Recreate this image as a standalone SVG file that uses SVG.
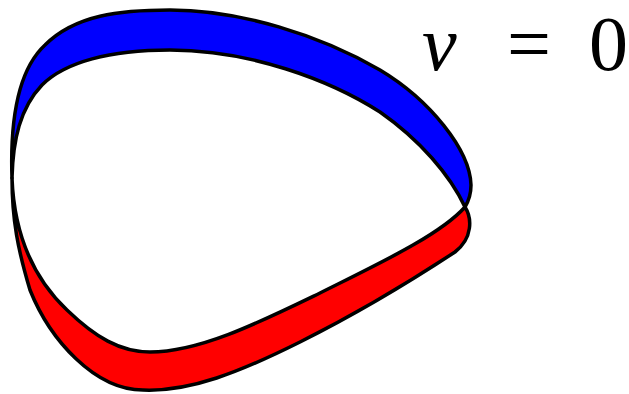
<svg xmlns="http://www.w3.org/2000/svg" width="629" height="394" viewBox="0 0 629 394">
<style>
.band{stroke:#000;stroke-width:3.5;stroke-linejoin:round}
</style>
<rect width="629" height="394" fill="#fff"/>
<g id="blue-band">
<path class="band" fill="#0000ff" d="M12,178 C10,120 18,70 45,45 C75,15 120,10 170,10 C240,10 320,35 380,70 C430,100 470,150 471,185 C471,195 468,202 465,207 C450,175 420,140 380,112 C330,80 250,50 170,50 C110,50 65,62 42,85 C20,108 13,140 12,178 Z"/>
</g>
<g id="red-band">
<path class="band" fill="#ff0000" d="M465,207 C472,218 473,238 455,252 C420,275 360,312 300,342 C240,372 190,392 143,390 C95,390 50,340 30,290 C18,250 12,220 12,178 C14,230 30,275 67,310 C95,337 120,352 150,352 C200,352 260,322 320,293 C380,263 440,235 465,207 Z"/>
</g>
<g id="label" font-family="Liberation Serif, Times New Roman, serif" font-size="78" fill="#000">
<text x="422" y="70" font-style="italic">ν</text>
<text x="507" y="70">=</text>
<text x="589" y="70">0</text>
</g>
</svg>
